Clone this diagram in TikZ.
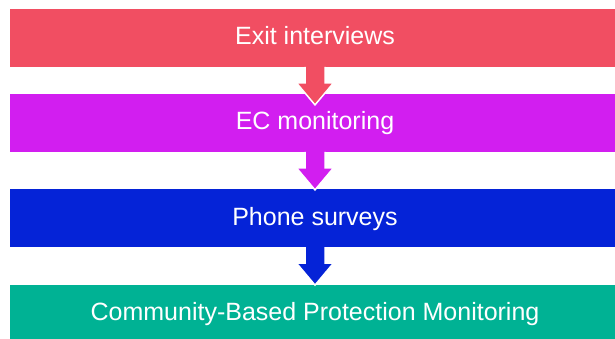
\documentclass[tikz,border=0pt]{standalone}
\usepackage{fontspec}
\usepackage{tikz}
\setmainfont{Liberation Sans}

\definecolor{exitred}{HTML}{F14E62}
\definecolor{ecmagenta}{HTML}{D21EF0}
\definecolor{phoneblue}{HTML}{0523D7}
\definecolor{cbpmteal}{HTML}{00B294}

\begin{document}
\begin{tikzpicture}[x=1pt, y=1pt]
    \tikzstyle{bar} = [rectangle, inner sep=0pt, minimum width=610pt, minimum height=57.4pt,
                       text=white, text height=19pt, text depth=5pt,
                       font=\fontsize{25}{29}\selectfont]
    \tikzstyle{flow} = [draw=white, line width=1.5pt]

    \useasboundingbox (0,0) rectangle (615,339);

    % Coloured bars, one per step
    \foreach \name/\y/\col/\txt in {exit/301/exitred/Exit interviews,
                                     ec/216/ecmagenta/EC monitoring,
                                     phone/120.8/phoneblue/Phone surveys,
                                     cbpm/25.3/cbpmteal/Community-Based Protection Monitoring} {
        \node[bar, fill=\col] (\name) at (315, \y) {\txt};
    }

    % Block arrows hanging from each bar (path left open at the top,
    % so the white outline only runs along the sides and the head)
    \foreach \a/\col in {exit/exitred, ec/ecmagenta, phone/phoneblue} {
        \filldraw[flow, fill=\col] ([xshift=-10pt]\a.south) -- ++(0,-16) -- ++(-8.5,0)
            -- ++(18.5,-22) -- ++(18.5,22) -- ++(-8.5,0) -- ++(0,16);
    }
\end{tikzpicture}
\end{document}
